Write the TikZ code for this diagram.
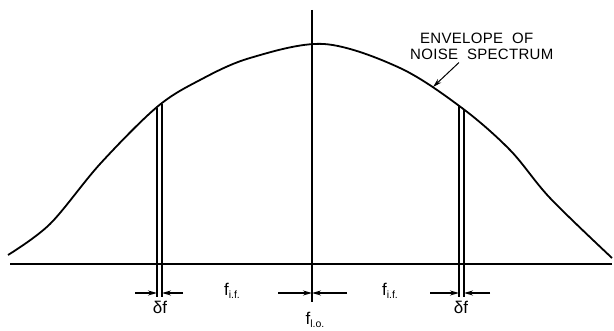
\documentclass[tikz,border=0pt]{standalone}
\usepackage{fontspec}
\setmainfont{Liberation Sans}
\usetikzlibrary{arrows.meta}
\tikzset{
  envl/.style={line width=1.8pt},                      % noise envelope
  axis/.style={line width=1.6pt},
  stripe/.style={line width=1.2pt},                    % delta-f strips
  dimarr/.style={-{Stealth[length=9pt,width=5pt]},line width=1.2pt},
  lbl/.style={inner sep=0pt,font=\fontsize{15}{17}\selectfont\addfontfeature{LetterSpace=2}},
  flbl/.style={inner sep=0pt,font=\fontsize{17}{18}\selectfont},
}
\newcommand{\sub}[1]{\raisebox{-3.5pt}{\fontsize{10.5}{10.5}\selectfont #1}}

\begin{document}
\begin{tikzpicture}[x=1pt,y=-1pt]
  \useasboundingbox (0,0) rectangle (614,331);
  % envelope
  \draw[envl] plot[smooth,tension=0.55] coordinates {(8,255) (50,224)
    (100,164) (157,107) (200,80) (250,58) (324,44)
    (400,68) (462,108) (510,150) (550,198) (612,258)};
  % axes
  \draw[axis] (10,264) -- (612,264);
  \draw[axis] (312,10) -- (312,302);
  % delta-f strips
  \draw[stripe] (157,108) -- (157,297);
  \draw[stripe] (162,104) -- (162,297);
  \draw[stripe] (459,106) -- (459,297);
  \draw[stripe] (464,110) -- (464,297);
  % dimension arrows
  \draw[dimarr] (135,293) -- (157,293);
  \draw[dimarr] (183,293) -- (162,293);
  \draw[dimarr] (278,293) -- (312,293);
  \draw[dimarr] (347,293) -- (312,293);
  \draw[dimarr] (430,293) -- (459,293);
  \draw[dimarr] (490,293) -- (464,293);
  % labels
  \node[flbl] (dfl) at (160,307) {δf};
  \node[flbl] (fifl) at (232,291) {f\sub{i.f.}};
  \node[flbl] (flo) at (315,320) {f\sub{l.o.}};
  \node[flbl] (fifr) at (390,291) {f\sub{i.f.}};
  \node[flbl] (dfr) at (461,307) {δf};
  \node[lbl,anchor=west] (env1) at (420,38) {ENVELOPE\ \ OF};
  \node[lbl,anchor=west] (env2) at (410,54) {NOISE\ \ SPECTRUM};
  \coordinate (tip) at (433,87);
  \draw[dimarr,line width=1pt] (env2.south west) ++(49,3) -- (tip);
\end{tikzpicture}
\end{document}
